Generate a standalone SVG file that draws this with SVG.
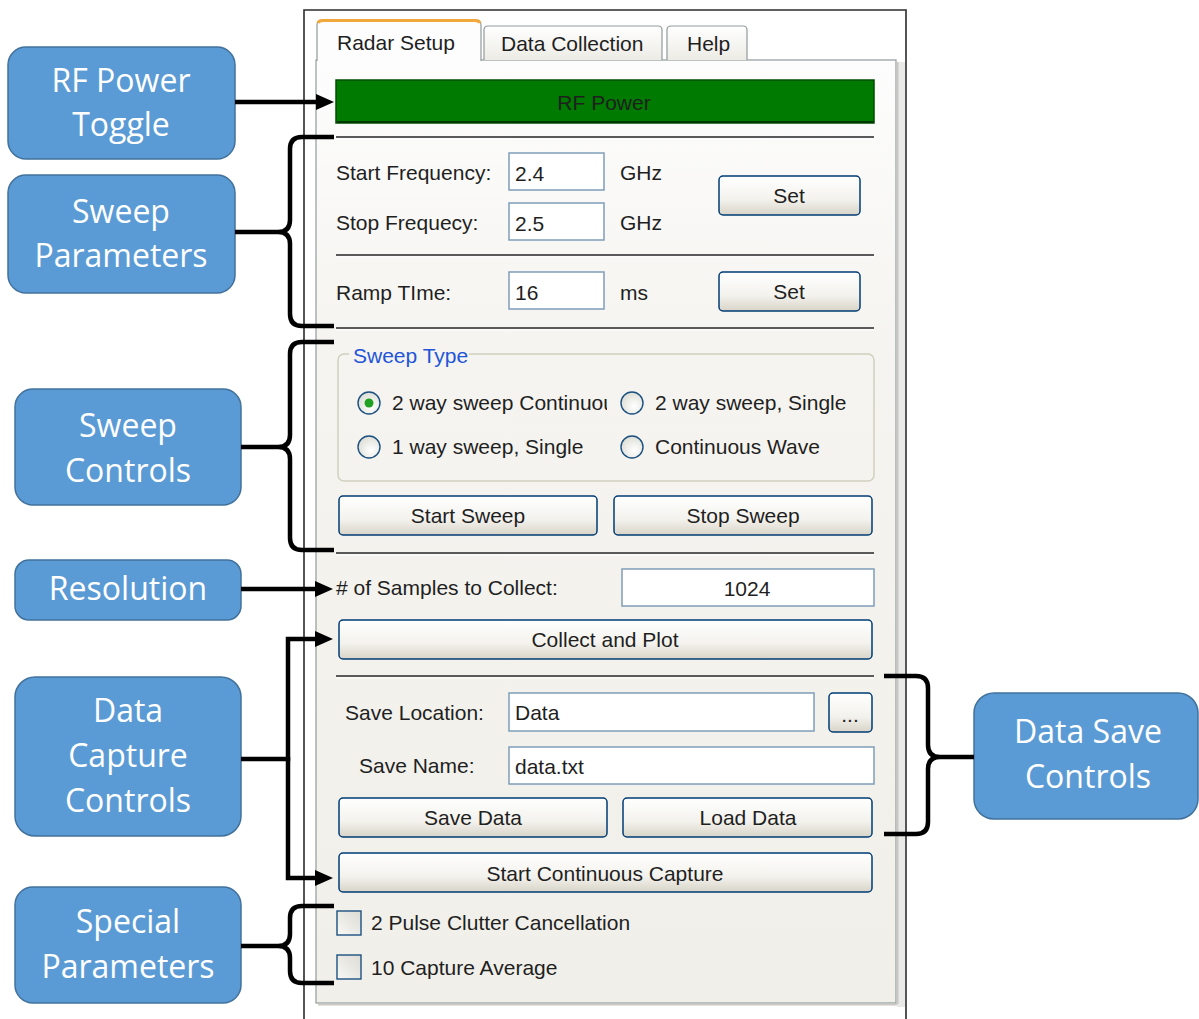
<svg xmlns="http://www.w3.org/2000/svg" width="1199" height="1019" viewBox="0 0 1199 1019">
<defs>
<style>
.ui{font-family:"Liberation Sans",Arial,sans-serif;font-size:21px;fill:#1f1f1f}
.mid{text-anchor:middle}
.lbl{font-family:"Open Sans","Noto Sans",sans-serif;font-size:32px;fill:#ffffff;text-anchor:middle}
.box{fill:#5b9bd5;stroke:#41719c;stroke-width:1.5}
.tb{fill:#ffffff;stroke:#7f9db9;stroke-width:1.5}
.btn{fill:url(#gBtn);stroke:#003c74;stroke-width:1.5}
.sep{stroke:#5a5a5a;stroke-width:2}
.sepl{stroke:#ffffff;stroke-width:1}
.rad{fill:url(#gRad);stroke:#1c5180;stroke-width:1.4}
.chk{fill:url(#gChk);stroke:#1c5180;stroke-width:1.4}
.con{fill:none;stroke:#000000;stroke-width:4.5}
</style>
<linearGradient id="gPanel" x1="0" y1="0" x2="0" y2="1">
<stop offset="0" stop-color="#fdfdfd"/><stop offset="0.3" stop-color="#f5f4f0"/><stop offset="1" stop-color="#f0efe9"/>
</linearGradient>
<linearGradient id="gTab" x1="0" y1="0" x2="0" y2="1">
<stop offset="0" stop-color="#ffffff"/><stop offset="1" stop-color="#ecebe5"/>
</linearGradient>
<linearGradient id="gBtn" x1="0" y1="0" x2="0" y2="1">
<stop offset="0" stop-color="#ffffff"/><stop offset="0.6" stop-color="#f3f2ed"/><stop offset="1" stop-color="#d8d4c8"/>
</linearGradient>
<radialGradient id="gRad" cx="0.6" cy="0.65" r="0.7">
<stop offset="0" stop-color="#ffffff"/><stop offset="1" stop-color="#dcdcd4"/>
</radialGradient>
<linearGradient id="gChk" x1="0" y1="1" x2="1" y2="0">
<stop offset="0" stop-color="#f8f8f6"/><stop offset="1" stop-color="#dcdbd3"/>
</linearGradient>
<marker id="ah" viewBox="0 0 18 16" markerWidth="18" markerHeight="16" refX="9" refY="8" orient="auto" markerUnits="userSpaceOnUse">
<path d="M0,0 L18,8 L0,16 z" fill="#000000"/>
</marker>
<clipPath id="clipR1"><rect x="380" y="385" width="227" height="36"/></clipPath>
</defs>

<rect x="0" y="0" width="1199" height="1019" fill="#ffffff"/>

<g id="window">
<path d="M304,1019 V10 H906 V1019" fill="#ffffff" stroke="#2b2b2b" stroke-width="1.6"/>
<rect x="897" y="62" width="8" height="945" fill="#e9e9e7"/>
<rect x="316" y="60" width="580" height="943" fill="url(#gPanel)" stroke="#919b9c" stroke-width="1.2"/>
<line x1="318" y1="1004.5" x2="897" y2="1004.5" stroke="#c9c8c2" stroke-width="2"/>
<line x1="897.5" y1="62" x2="897.5" y2="1004" stroke="#c9c8c2" stroke-width="2"/>
</g>

<g id="tabs">
<path d="M484,60 V30 Q484,26 488,26 H658 Q662,26 662,30 V60" fill="url(#gTab)" stroke="#919b9c" stroke-width="1.2"/>
<path d="M667,60 V30 Q667,26 671,26 H743 Q747,26 747,30 V60" fill="url(#gTab)" stroke="#919b9c" stroke-width="1.2"/>
<path d="M317,61 V25 Q317,20 322,20 H476 Q481,20 481,25 V61" fill="#fdfdfd" stroke="#919b9c" stroke-width="1.2"/>
<path d="M318,23 Q319,20.5 323,20.5 H475 Q479,20.5 480,23" fill="none" stroke="#f2a83a" stroke-width="3"/>
<text class="ui" x="337" y="50">Radar Setup</text>
<text class="ui" x="501" y="51">Data Collection</text>
<text class="ui" x="687" y="51">Help</text>
</g>

<g id="rf-power-button">
<rect x="336" y="80" width="538" height="43" fill="#007a00" stroke="#004d00" stroke-width="1.5"/>
<line x1="337" y1="122" x2="874" y2="122" stroke="#003a00" stroke-width="2"/>
<text class="ui mid" x="604" y="110">RF Power</text>
</g>

<g id="separators">
<line class="sep" x1="336" y1="137" x2="874" y2="137"/><line class="sepl" x1="336" y1="139" x2="874" y2="139"/>
<line class="sep" x1="336" y1="255" x2="874" y2="255"/><line class="sepl" x1="336" y1="257" x2="874" y2="257"/>
<line class="sep" x1="336" y1="328" x2="874" y2="328"/><line class="sepl" x1="336" y1="330" x2="874" y2="330"/>
<line class="sep" x1="336" y1="553" x2="874" y2="553"/><line class="sepl" x1="336" y1="555" x2="874" y2="555"/>
<line class="sep" x1="336" y1="676" x2="874" y2="676"/><line class="sepl" x1="336" y1="678" x2="874" y2="678"/>
</g>

<g id="sweep-parameters-fields">
<text class="ui" x="336" y="180">Start Frequency:</text>
<rect class="tb" x="509" y="153" width="95" height="37"/>
<text class="ui" x="515" y="181">2.4</text>
<text class="ui" x="620" y="180">GHz</text>
<text class="ui" x="336" y="230">Stop Frequecy:</text>
<rect class="tb" x="509" y="203" width="95" height="37"/>
<text class="ui" x="515" y="231">2.5</text>
<text class="ui" x="620" y="230">GHz</text>
<rect class="btn" x="719" y="176" width="141" height="39" rx="4"/>
<text class="ui mid" x="789" y="203">Set</text>
<text class="ui" x="336" y="300">Ramp TIme:</text>
<rect class="tb" x="509" y="272" width="95" height="37"/>
<text class="ui" x="515" y="300">16</text>
<text class="ui" x="620" y="300">ms</text>
<rect class="btn" x="719" y="272" width="141" height="39" rx="4"/>
<text class="ui mid" x="789" y="299">Set</text>
</g>

<g id="sweep-type-group">
<rect x="338" y="354" width="536" height="127" rx="6" fill="none" stroke="#d0d0bf" stroke-width="1.5"/>
<rect x="349" y="344" width="120" height="20" fill="#f5f4f0"/>
<text class="ui" x="353" y="363" style="fill:#2355d8">Sweep Type</text>
<circle class="rad" cx="369" cy="403" r="11"/>
<circle cx="369" cy="403" r="4.5" fill="#21a121"/>
<text class="ui" x="392" y="410" clip-path="url(#clipR1)">2 way sweep Continuous</text>
<circle class="rad" cx="632" cy="403" r="11"/>
<text class="ui" x="655" y="410">2 way sweep, Single</text>
<circle class="rad" cx="369" cy="447" r="11"/>
<text class="ui" x="392" y="454">1 way sweep, Single</text>
<circle class="rad" cx="632" cy="447" r="11"/>
<text class="ui" x="655" y="454">Continuous Wave</text>
</g>

<g id="sweep-buttons">
<rect class="btn" x="339" y="496" width="258" height="39" rx="4"/>
<text class="ui mid" x="468" y="523">Start Sweep</text>
<rect class="btn" x="614" y="496" width="258" height="39" rx="4"/>
<text class="ui mid" x="743" y="523">Stop Sweep</text>
</g>

<g id="resolution-field">
<text class="ui" x="336" y="595"># of Samples to Collect:</text>
<rect class="tb" x="622" y="569" width="252" height="37"/>
<text class="ui mid" x="747" y="596">1024</text>
</g>

<g id="collect-plot-button">
<rect class="btn" x="339" y="620" width="533" height="39" rx="4"/>
<text class="ui mid" x="605" y="647">Collect and Plot</text>
</g>

<g id="data-save-fields">
<text class="ui" x="345" y="720">Save Location:</text>
<rect class="tb" x="509" y="693" width="305" height="38"/>
<text class="ui" x="515" y="720">Data</text>
<rect class="btn" x="829" y="693" width="43" height="39" rx="4"/>
<text class="ui mid" x="850" y="722">...</text>
<text class="ui" x="359" y="773">Save Name:</text>
<rect class="tb" x="509" y="747" width="365" height="37"/>
<text class="ui" x="515" y="774">data.txt</text>
<rect class="btn" x="339" y="798" width="268" height="39" rx="4"/>
<text class="ui mid" x="473" y="825">Save Data</text>
<rect class="btn" x="623" y="798" width="249" height="39" rx="4"/>
<text class="ui mid" x="748" y="825">Load Data</text>
</g>

<g id="continuous-capture-button">
<rect class="btn" x="339" y="853" width="533" height="39" rx="4"/>
<text class="ui mid" x="605" y="881">Start Continuous Capture</text>
</g>

<g id="special-checkboxes">
<rect class="chk" x="337" y="911" width="24" height="24"/>
<text class="ui" x="371" y="930">2 Pulse Clutter Cancellation</text>
<rect class="chk" x="337" y="955" width="24" height="24"/>
<text class="ui" x="371" y="975">10 Capture Average</text>
</g>

<g id="label-rf-power-toggle">
<rect class="box" x="8" y="47" width="227" height="112" rx="18"/>
<text class="lbl" x="121" y="92">RF Power</text>
<text class="lbl" x="121" y="136">Toggle</text>
</g>
<g id="label-sweep-parameters">
<rect class="box" x="8" y="175" width="227" height="118" rx="18"/>
<text class="lbl" x="121" y="223">Sweep</text>
<text class="lbl" x="121" y="267">Parameters</text>
</g>
<g id="label-sweep-controls">
<rect class="box" x="15" y="389" width="226" height="116" rx="18"/>
<text class="lbl" x="128" y="437">Sweep</text>
<text class="lbl" x="128" y="482">Controls</text>
</g>
<g id="label-resolution">
<rect class="box" x="15" y="560" width="226" height="60" rx="14"/>
<text class="lbl" x="128" y="600">Resolution</text>
</g>
<g id="label-data-capture-controls">
<rect class="box" x="15" y="677" width="226" height="159" rx="20"/>
<text class="lbl" x="128" y="722">Data</text>
<text class="lbl" x="128" y="767">Capture</text>
<text class="lbl" x="128" y="812">Controls</text>
</g>
<g id="label-special-parameters">
<rect class="box" x="15" y="887" width="226" height="116" rx="18"/>
<text class="lbl" x="128" y="933">Special</text>
<text class="lbl" x="128" y="978">Parameters</text>
</g>
<g id="label-data-save-controls">
<rect class="box" x="974" y="693" width="224" height="126" rx="20"/>
<text class="lbl" x="1088" y="743">Data Save</text>
<text class="lbl" x="1088" y="788">Controls</text>
</g>

<g id="connectors">
<line class="con" x1="235" y1="102" x2="325" y2="102" marker-end="url(#ah)"/>
<path class="con" d="M334,137 H302 Q290,137 290,149 V220 Q290,232 278,232 H235 M278,232 Q290,232 290,244 V314 Q290,326 302,326 H334"/>
<path class="con" d="M334,342 H302 Q290,342 290,354 V435 Q290,447 278,447 H241 M278,447 Q290,447 290,459 V538 Q290,550 302,550 H334"/>
<line class="con" x1="241" y1="589" x2="324" y2="589" marker-end="url(#ah)"/>
<path class="con" d="M241,759 H288"/>
<path class="con" d="M288,761 V639 H324" marker-end="url(#ah)"/>
<path class="con" d="M288,757 V878 H324" marker-end="url(#ah)"/>
<path class="con" d="M334,906 H302 Q290,906 290,918 V934 Q290,946 278,946 H241 M278,946 Q290,946 290,958 V971 Q290,983 302,983 H334"/>
<path class="con" d="M884,676 H916 Q928,676 928,688 V745 Q928,757 940,757 H974 M940,757 Q928,757 928,769 V822 Q928,834 916,834 H884"/>
</g>
</svg>
